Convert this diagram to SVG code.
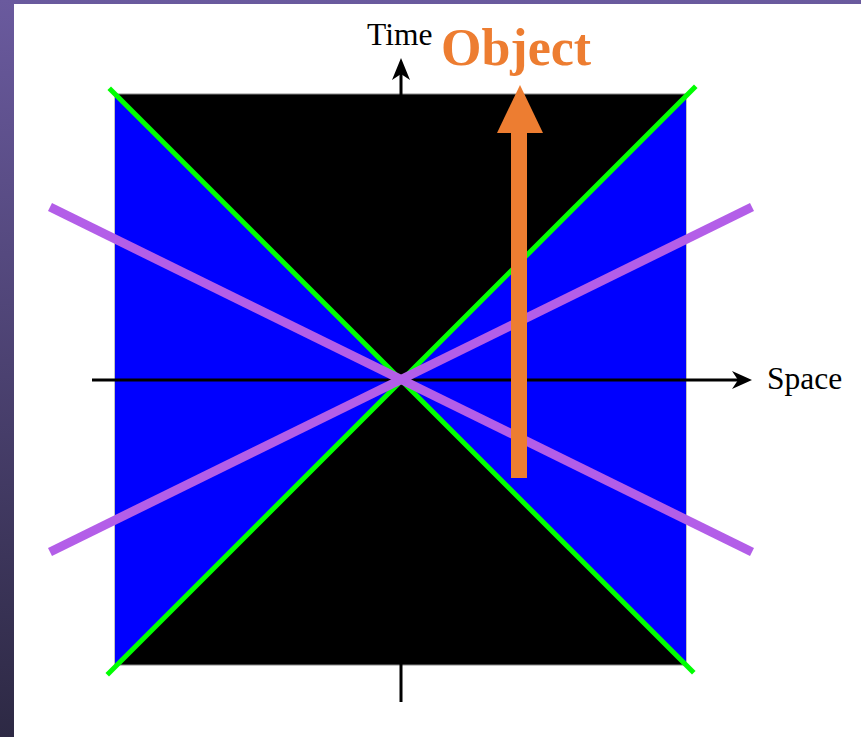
<svg xmlns="http://www.w3.org/2000/svg" width="861" height="737" viewBox="0 0 861 737">
<style>
.green{stroke:#00ff00;stroke-width:5;stroke-linecap:square}
.purple{stroke:#b35ee8;stroke-width:9}
.axis{stroke:#000;stroke-width:3}
.lbl{font-family:"Liberation Serif","Times New Roman",serif;font-size:31.5px;fill:#000}
.obj{font-family:"Liberation Serif","Times New Roman",serif;font-size:52px;font-weight:bold;fill:#ed7d31}
</style>
<defs>
<linearGradient id="bg" x1="0" y1="0" x2="0" y2="1">
<stop offset="0" stop-color="#6a5a9e"/>
<stop offset="1" stop-color="#2d2944"/>
</linearGradient>
</defs>
<rect x="0" y="0" width="861" height="737" fill="url(#bg)"/>
<rect x="14" y="4" width="847" height="733" fill="#fff"/>
<g id="spacetime">
<rect x="115" y="94" width="571" height="571" fill="#000" stroke="#888" stroke-width="1"/>
<polygon points="115,94 400.5,379.5 115,665" fill="#0000ff"/>
<polygon points="686,94 400.5,379.5 686,665" fill="#0000ff"/>
</g>
<g id="connectors">
<line class="axis" x1="92" y1="380" x2="740" y2="380"/>
<path d="M752,380 L732,371 L738,380 L732,389 Z" fill="#000"/>
<line class="axis" x1="401" y1="702" x2="401" y2="70"/>
<path d="M401,58 L392,80 L401,74 L410,80 Z" fill="#000"/>
<line class="green" x1="111" y1="90" x2="692" y2="671"/>
<line class="green" x1="109" y1="673" x2="694" y2="88"/>
<line class="purple" x1="50" y1="207" x2="752" y2="552"/>
<line class="purple" x1="50" y1="552" x2="752" y2="207"/>
</g>
<g id="object-arrow">
<rect x="511" y="131" width="16" height="347" fill="#ed7d31"/>
<polygon points="520,85 497,133 543,133" fill="#ed7d31"/>
</g>
<g id="labels">
<text class="lbl" x="367" y="45">Time</text>
<text class="lbl" x="767" y="389">Space</text>
<text class="obj" x="441" y="65">Object</text>
</g>
</svg>
